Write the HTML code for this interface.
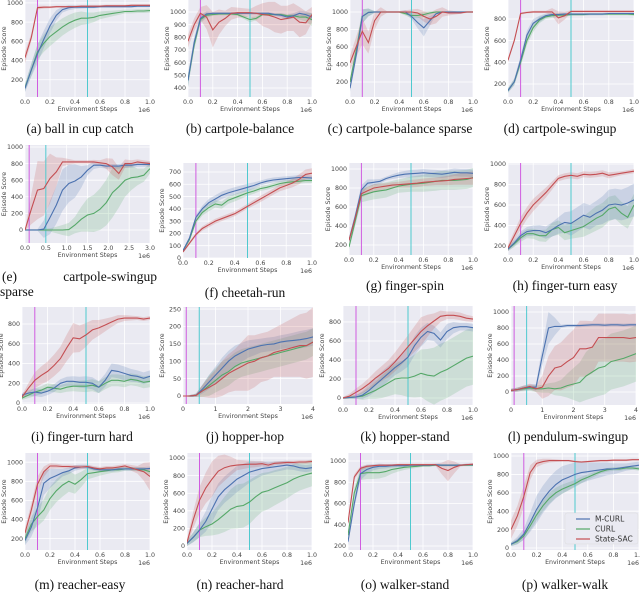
<!DOCTYPE html>
<html><head><meta charset="utf-8"><style>
html,body{margin:0;padding:0;background:#fff;}
svg{display:block;}
.tk{font-family:"DejaVu Sans","Liberation Sans",sans-serif;font-size:6.3px;fill:#444;}
.lg{font-family:"DejaVu Sans","Liberation Sans",sans-serif;font-size:7.5px;fill:#333;}
</style></head><body>
<svg id="fig" width="640" height="592" viewBox="0 0 640 592" xmlns="http://www.w3.org/2000/svg"></svg>
<script>
// ---- data (values at 21 evenly spaced steps; bands at 11 steps) ----
const a_red=[430,640,950,955,955,960,960,960,960,965,965,965,965,970,970,970,970,975,975,975,975];
const a_blue=[110,300,470,620,760,870,930,950,955,955,955,955,960,960,960,960,960,960,965,965,965];
const a_green=[120,300,490,580,650,700,750,790,820,840,840,850,870,880,890,900,910,910,915,915,920];
const a_redBand=[60,20,10,10,10,10,10,10,10,10,10];
const a_blueBand=[40,100,80,30,20,10,10,10,10,10,10];
const a_greenBand=[40,80,100,90,80,60,40,30,20,20,20];

const b_red=[770,900,990,960,860,920,950,990,995,995,995,990,980,975,960,940,950,960,920,915,980];
const b_blue=[460,760,950,985,990,990,990,990,990,990,990,990,990,990,980,975,960,970,990,980,960];
const b_green=[460,740,940,975,980,985,985,985,980,960,940,950,980,980,980,980,970,970,960,960,940];
const b_redBand=[50,50,140,60,40,30,90,120,100,120,60];
const b_blueBand=[50,30,10,10,10,10,10,10,20,20,30];
const b_greenBand=[50,30,10,10,10,20,10,10,10,20,50];

const c_red=[420,600,780,650,900,1000,1000,1000,1000,1000,1000,990,950,920,950,1000,990,990,990,1000,1000];
const c_blue=[130,500,950,995,1000,1000,1000,1000,1000,1000,950,880,820,900,980,1000,1000,1000,1000,1000,1000];
const c_green=[200,550,950,995,1000,1000,1000,1000,1000,980,960,960,970,990,1000,1000,1000,1000,1000,1000,1000];
const c_redBand=[80,150,100,10,10,30,60,80,30,10,10];
const c_blueBand=[40,80,10,10,10,30,100,10,10,10,10];
const c_greenBand=[40,80,10,10,10,30,30,10,10,10,10];

const d_red=[420,600,850,860,865,865,865,865,810,830,870,870,870,870,870,870,870,870,870,870,870];
const d_blue=[140,220,420,650,760,800,830,840,840,845,845,845,845,845,845,845,850,850,850,850,850];
const d_green=[140,220,400,600,720,790,820,830,835,835,840,840,840,845,845,845,845,845,845,845,840];
const d_redBand=[20,10,10,10,60,10,10,10,10,10,10];
const d_blueBand=[20,40,40,20,10,10,10,10,10,10,10];
const d_greenBand=[20,40,40,20,20,10,10,10,10,10,10];

const e_red=[0,250,480,500,620,700,820,820,820,820,820,820,810,800,760,680,800,800,820,810,800];
const e_blue=[0,0,0,10,150,300,480,560,590,640,720,780,780,770,770,770,780,780,790,790,790];
const e_green=[0,0,0,0,0,0,0,5,60,130,180,200,250,330,450,520,600,630,640,660,740];
const e_redBand=[10,350,300,50,20,20,30,100,50,30,30];
const e_blueBand=[10,10,200,250,200,60,30,30,30,30,30];
const e_greenBand=[10,10,20,60,100,200,250,300,200,100,60];

const f_red=[50,120,190,240,270,300,320,340,360,390,420,450,480,510,540,570,590,610,640,680,690];
const f_blue=[60,160,330,400,450,480,510,530,545,560,575,590,610,625,635,640,645,650,655,655,650];
const f_green=[60,150,300,370,410,440,430,470,490,510,530,545,565,575,590,605,615,620,625,630,630];
const f_redBand=[10,15,20,20,20,20,25,25,30,40,40];
const f_blueBand=[10,20,30,30,30,30,20,20,20,20,20];
const f_greenBand=[10,20,30,30,30,25,20,20,20,20,20];

const g_red=[250,480,740,770,800,810,820,830,835,840,845,850,860,865,870,875,880,890,895,900,905];
const g_blue=[250,500,780,850,860,870,900,920,935,945,950,955,960,955,950,945,955,965,960,960,955];
const g_green=[180,450,720,740,760,770,780,800,820,830,840,845,850,860,870,880,880,880,885,890,910];
const g_redBand=[30,40,40,30,30,40,40,40,50,60,70];
const g_blueBand=[30,50,30,20,30,40,40,40,40,40,40];
const g_greenBand=[30,70,80,80,70,80,90,100,100,100,100];

const h_red=[180,300,420,520,600,660,720,790,860,880,890,880,900,895,900,910,890,900,910,920,930];
const h_blue=[170,230,300,340,350,350,330,360,400,430,420,460,500,480,520,550,600,610,600,620,650];
const h_green=[170,220,280,320,320,300,300,360,380,330,350,370,390,430,470,500,560,580,520,480,600];
const h_redBand=[30,60,60,50,30,30,30,30,30,20,20];
const h_blueBand=[20,40,50,60,80,120,120,120,150,150,160];
const h_greenBand=[20,40,50,60,70,80,100,120,120,110,110];

const i_red=[60,150,230,280,320,380,450,560,660,650,690,740,760,790,820,850,860,860,860,850,860];
const i_blue=[80,100,110,100,120,150,200,220,220,210,210,200,160,230,330,320,300,280,270,250,270];
const i_green=[50,80,110,130,160,150,140,160,170,170,170,180,160,200,230,230,220,240,230,210,220];
const i_redBand=[20,80,100,120,150,120,80,50,30,20,20];
const i_blueBand=[20,40,40,40,50,60,60,70,70,60,60];
const i_greenBand=[20,40,40,40,50,60,60,60,60,60,60];

const j_red=[0,0,2,15,25,35,50,65,75,85,95,100,110,115,125,130,135,140,145,145,155];
const j_blue=[0,0,2,20,40,60,80,100,115,125,135,140,145,148,150,155,158,160,162,165,170];
const j_green=[0,0,2,15,30,45,60,70,85,95,100,105,110,115,120,125,130,135,140,145,155];
const j_redBand=[0,5,30,50,60,80,70,70,80,90,100];
const j_blueBand=[0,5,20,30,30,25,20,20,20,25,25];
const j_greenBand=[0,5,30,40,40,40,40,40,40,40,40];

const k_red=[0,20,60,100,150,210,260,310,380,460,540,620,700,760,810,860,870,870,860,840,830];
const k_blue=[0,5,10,30,80,140,200,260,320,370,430,550,640,700,680,610,700,740,750,750,740];
const k_green=[0,5,10,20,50,80,120,160,200,210,210,230,260,240,230,270,300,340,380,420,440];
const k_redBand=[10,40,60,80,100,120,150,80,40,40,30];
const k_blueBand=[10,20,60,80,80,100,100,80,80,40,40];
const k_greenBand=[10,20,60,120,160,200,250,300,300,300,300];

const l_red=[20,30,50,70,40,60,200,300,320,380,430,540,540,560,680,680,680,680,680,670,680];
const l_blue=[20,30,50,60,60,450,800,820,820,830,830,830,835,840,840,835,840,840,835,840,840];
const l_green=[20,30,40,50,40,40,50,40,50,80,100,120,200,250,300,320,380,400,420,450,480];
const l_redBand=[20,30,40,250,300,350,350,300,300,300,300];
const l_blueBand=[20,30,40,200,20,20,20,20,20,20,20];
const l_greenBand=[20,30,40,60,100,200,300,350,350,350,350];

const m_red=[260,500,770,900,960,960,955,955,950,950,955,940,930,940,940,950,960,940,920,900,850];
const m_blue=[180,320,520,780,830,860,890,910,940,950,950,930,920,920,920,930,930,930,930,930,935];
const m_green=[200,350,430,500,620,700,760,800,770,820,880,890,900,910,920,920,930,930,925,920,900];
const m_redBand=[50,80,30,20,20,20,20,20,20,40,150];
const m_blueBand=[50,150,100,40,30,20,20,20,20,20,20];
const m_greenBand=[50,100,120,120,100,60,40,30,20,20,30];

const n_red=[40,300,520,660,760,850,890,910,920,925,930,930,935,920,940,945,950,950,955,955,960];
const n_blue=[30,100,180,280,420,560,640,700,760,800,840,860,880,890,900,910,920,910,890,880,890];
const n_green=[30,100,180,220,250,300,360,420,450,460,500,560,610,630,660,690,720,760,790,810,830];
const n_redBand=[40,150,200,150,60,40,30,20,20,20,20];
const n_blueBand=[30,80,150,150,150,120,80,60,50,40,40];
const n_greenBand=[30,80,130,200,250,250,220,200,180,160,150];

const o_red=[420,850,930,950,955,960,960,960,965,965,965,965,965,965,965,930,910,940,960,965,970];
const o_blue=[240,600,880,920,940,950,950,955,955,955,960,960,960,960,965,960,960,960,960,965,965];
const o_green=[300,700,880,890,890,890,900,920,930,940,945,950,955,955,960,960,960,960,960,960,960];
const o_redBand=[30,20,10,10,10,10,10,10,100,10,10];
const o_blueBand=[30,60,30,20,15,10,10,10,10,10,10];
const o_greenBand=[30,60,60,50,30,20,10,10,10,10,10];

const p_red=[200,350,560,820,920,940,950,950,950,950,940,935,940,945,950,950,955,955,955,960,960];
const p_blue=[40,80,150,280,420,530,620,690,740,770,800,820,830,840,850,860,860,870,880,890,900];
const p_green=[40,70,130,240,360,460,540,600,640,670,700,740,770,800,830,850,860,860,870,870,860];
const p_redBand=[100,120,40,20,10,10,10,10,10,10,10];
const p_blueBand=[20,60,150,150,150,130,100,80,60,40,40];
const p_greenBand=[20,40,60,60,50,40,30,20,20,20,20];

const xTicks1=[0,0.2,0.4,0.6,0.8,1.0];
const xTickLabels1=["0.0","0.2","0.4","0.6","0.8","1.0"];
const xTicks3=[0,0.5,1,1.5,2,2.5,3];
const xTickLabels3=["0.0","0.5","1.0","1.5","2.0","2.5","3.0"];
const xTicks4=[0,1,2,3,4];
const xTickLabels4=["0","1","2","3","4"];
const yT_200_1000=[200,400,600,800,1000];
const yT_400_1000=[400,500,600,700,800,900,1000];
const yT_200_800=[200,400,600,800];
const yT_0_1000=[0,200,400,600,800,1000];
const yT_0_700=[0,100,200,300,400,500,600,700];
const yT_0_800=[0,200,400,600,800];
const yT_0_250=[0,50,100,150,200,250];

// ---- layout (positions) ----
const panels=[
 {id:'a',x0:25,x1:150,y0:0,y1:97,ymin:20,ymax:1030,xmax:1,yt:yT_200_1000,cap:'(a) ball in cup catch',cx:80,cy:133,d:[a_red,a_blue,a_green,a_redBand,a_blueBand,a_greenBand]},
 {id:'b',x0:188,x1:312,y0:0,y1:97,ymin:329,ymax:1095,xmax:1,yt:yT_400_1000,cap:'(b) cartpole-balance',cx:240,cy:133,d:[b_red,b_blue,b_green,b_redBand,b_blueBand,b_greenBand]},
 {id:'c',x0:350,x1:473,y0:0,y1:97,ymin:29,ymax:1137,xmax:1,yt:yT_200_1000,cap:'(c) cartpole-balance sparse',cx:400,cy:133,d:[c_red,c_blue,c_green,c_redBand,c_blueBand,c_greenBand]},
 {id:'d',x0:508,x1:634,y0:0,y1:97,ymin:80,ymax:975,xmax:1,yt:yT_200_800,cap:'(d) cartpole-swingup',cx:560,cy:133,d:[d_red,d_blue,d_green,d_redBand,d_blueBand,d_greenBand]},
 {id:'e',x0:25,x1:150,y0:145,y1:243,ymin:-157,ymax:1024,xmax:3,yt:yT_0_1000,cap:null,d:[e_red,e_blue,e_green,e_redBand,e_blueBand,e_greenBand]},
 {id:'f',x0:183,x1:312,y0:163,y1:258,ymin:0,ymax:773,xmax:1,yt:yT_0_700,cap:'(f) cheetah-run',cx:245,cy:297,d:[f_red,f_blue,f_green,f_redBand,f_blueBand,f_greenBand]},
 {id:'g',x0:349,x1:473,y0:163,y1:255,ymin:95,ymax:1063,xmax:1,yt:yT_200_1000,cap:'(g) finger-spin',cx:405,cy:290,d:[g_red,g_blue,g_green,g_redBand,g_blueBand,g_greenBand]},
 {id:'h',x0:508,x1:634,y0:163,y1:255,ymin:112,ymax:1010,xmax:1,yt:yT_200_1000,cap:'(h) finger-turn easy',cx:565,cy:290,d:[h_red,h_blue,h_green,h_redBand,h_blueBand,h_greenBand]},
 {id:'i',x0:22,x1:150,y0:307,y1:404,ymin:-10,ymax:972,xmax:1,yt:yT_0_800,cap:'(i) finger-turn hard',cx:82,cy:441,d:[i_red,i_blue,i_green,i_redBand,i_blueBand,i_greenBand]},
 {id:'j',x0:183,x1:313,y0:307,y1:404,ymin:-23,ymax:256,xmax:4,yt:yT_0_250,cap:'(j) hopper-hop',cx:245,cy:441,d:[j_red,j_blue,j_green,j_redBand,j_blueBand,j_greenBand]},
 {id:'k',x0:343,x1:473,y0:306,y1:405,ymin:-74,ymax:968,xmax:1,yt:yT_0_800,cap:'(k) hopper-stand',cx:405,cy:441,d:[k_red,k_blue,k_green,k_redBand,k_blueBand,k_greenBand]},
 {id:'l',x0:511,x1:636,y0:306,y1:405,ymin:-162,ymax:1075,xmax:4,yt:yT_0_1000,cap:'(l) pendulum-swingup',cx:568,cy:441,d:[l_red,l_blue,l_green,l_redBand,l_blueBand,l_greenBand]},
 {id:'m',x0:25,x1:150,y0:453,y1:550,ymin:81,ymax:1096,xmax:1,yt:yT_200_1000,cap:'(m) reacher-easy',cx:80,cy:589,d:[m_red,m_blue,m_green,m_redBand,m_blueBand,m_greenBand]},
 {id:'n',x0:187,x1:312,y0:453,y1:550,ymin:-45,ymax:1057,xmax:1,yt:yT_0_1000,cap:'(n) reacher-hard',cx:240,cy:589,d:[n_red,n_blue,n_green,n_redBand,n_blueBand,n_greenBand]},
 {id:'o',x0:348,x1:473,y0:453,y1:550,ymin:162,ymax:1075,xmax:1,yt:yT_200_1000,cap:'(o) walker-stand',cx:405,cy:589,d:[o_red,o_blue,o_green,o_redBand,o_blueBand,o_greenBand]},
 {id:'p',x0:511,x1:639,y0:453,y1:550,ymin:-22,ymax:1033,xmax:1,yt:yT_0_1000,cap:'(p) walker-walk',cx:565,cy:589,d:[p_red,p_blue,p_green,p_redBand,p_blueBand,p_greenBand]}
];
const COLORS=['#c44e52','#4c72b0','#55a868'];
const SERIF='font-family:"Liberation Serif","DejaVu Serif",serif;font-size:13.5px;fill:#111;';
const NS='http://www.w3.org/2000/svg';
const svg=document.getElementById('fig');
function mk(tag,attrs,parent){const e=document.createElementNS(NS,tag);for(const k in attrs)e.setAttribute(k,attrs[k]);(parent||svg).appendChild(e);return e;}

panels.forEach(function(P){
  const g=mk('g',{});
  
  
  const xs=function(v){return P.x0+(v/P.xmax)*(P.x1-P.x0);};
  const ys=function(v){return P.y1-(v-P.ymin)/(P.ymax-P.ymin)*(P.y1-P.y0);};
  const bg=mk('rect',{x:P.x0,y:P.y0,width:P.x1-P.x0,height:P.y1-P.y0,fill:'#eaeaf2'},g);
  
  
  const clipId='clip'+P.id;
  const cp=mk('clipPath',{id:clipId},g);
  mk('rect',{x:P.x0,y:P.y0,width:P.x1-P.x0,height:P.y1-P.y0},cp);
  let xt,xl;
  if(P.xmax===1){xt=xTicks1;xl=xTickLabels1;}else if(P.xmax===3){xt=xTicks3;xl=xTickLabels3;}else{xt=xTicks4;xl=xTickLabels4;}
  xt.forEach(function(t,i){
    const X=xs(t);
    mk('line',{x1:X,x2:X,y1:P.y0,y2:P.y1,stroke:'#fff','stroke-width':0.8},g);
    const tx=mk('text',{x:X,y:P.y1+7,'text-anchor':'middle',class:'tk'},g);
    tx.textContent=xl[i];
    
    
  });
  P.yt.forEach(function(t){
    const Y=ys(t);
    if(Y<P.y0-1||Y>P.y1+1)return;
    mk('line',{x1:P.x0,x2:P.x1,y1:Y,y2:Y,stroke:'#fff','stroke-width':0.8},g);
    const ty=mk('text',{x:P.x0-2,y:Y+2.2,'text-anchor':'end',class:'tk'},g);
    ty.textContent=String(t);
    
    
  });
  const inner=mk('g',{'clip-path':'url(#'+clipId+')'},g);
  [2,1,0].forEach(function(si){
    const vals=P.d[si],band=P.d[si+3],n=vals.length;
    const up=[],lo=[];
    for(let i=0;i<n;i++){
      const bi=i/(n-1)*(band.length-1),b0=Math.floor(bi),b1=Math.min(band.length-1,b0+1),f=bi-b0;
      const bw=band[b0]*(1-f)+band[b1]*f;
      const X=xs(i/(n-1)*P.xmax);
      up.push(X.toFixed(1)+','+ys(vals[i]+bw).toFixed(1));
      lo.unshift(X.toFixed(1)+','+ys(vals[i]-bw).toFixed(1));
    }
    const poly=mk('polygon',{points:up.concat(lo).join(' '),fill:COLORS[si],'fill-opacity':0.2},inner);
    
    
  });
  const vLine1=mk('line',{x1:xs(0.1),x2:xs(0.1),y1:P.y0,y2:P.y1,stroke:'#d05ce0','stroke-width':1},inner);
  
  
  const vLine2=mk('line',{x1:xs(0.5),x2:xs(0.5),y1:P.y0,y2:P.y1,stroke:'#4fc9cf','stroke-width':1},inner);
  
  
  [2,1,0].forEach(function(si){
    const vals=P.d[si],n=vals.length;
    const pts=vals.map(function(v,i){return xs(i/(n-1)*P.xmax).toFixed(1)+','+ys(v).toFixed(1);});
    const pl=mk('polyline',{points:pts.join(' '),fill:'none',stroke:COLORS[si],'stroke-width':1.1},inner);
    
    
  });
  const xlab=mk('text',{x:(P.x0+P.x1)/2,y:P.y1+14,'text-anchor':'middle',class:'tk'},g);
  xlab.textContent='Environment Steps';
  
  
  const e6=mk('text',{x:P.x1,y:P.y1+15,'text-anchor':'end',class:'tk'},g);
  e6.textContent='1e6';
  
  
  const cy=(P.y0+P.y1)/2, lx=P.x0-19;
  const ylab=mk('text',{x:lx,y:cy,'text-anchor':'middle',class:'tk',transform:'rotate(-90 '+lx+' '+cy+')'},g);
  ylab.textContent='Episode Score';
  
  
  if(P.cap){
    const c=mk('text',{x:P.cx,y:P.cy,'text-anchor':'middle',style:SERIF},g);
    c.textContent=P.cap;
    
    
  }
});
const ce1=mk('text',{x:2,y:281,style:SERIF});
ce1.textContent='(e)';


const ce2=mk('text',{x:157,y:281,'text-anchor':'end',style:SERIF});
ce2.textContent='cartpole-swingup';


const ce3=mk('text',{x:0,y:296,style:SERIF});
ce3.textContent='sparse';


const lg=mk('g',{});


mk('rect',{x:565,y:513,width:73,height:31,fill:'#eaeaf2',stroke:'#ddd','stroke-width':0.5,rx:2},lg);
const legNames=['M-CURL','CURL','State-SAC'];
const legCols=['#4c72b0','#55a868','#c44e52'];
legNames.forEach(function(nm,i){
  const y=519+i*10;
  const ln=mk('line',{x1:576,x2:590,y1:y,y2:y,stroke:legCols[i],'stroke-width':1.2},lg);
  
  
  const t=mk('text',{x:595,y:y+2.6,class:'lg'},lg);
  t.textContent=nm;
  
  
});
</script>
</body></html>
